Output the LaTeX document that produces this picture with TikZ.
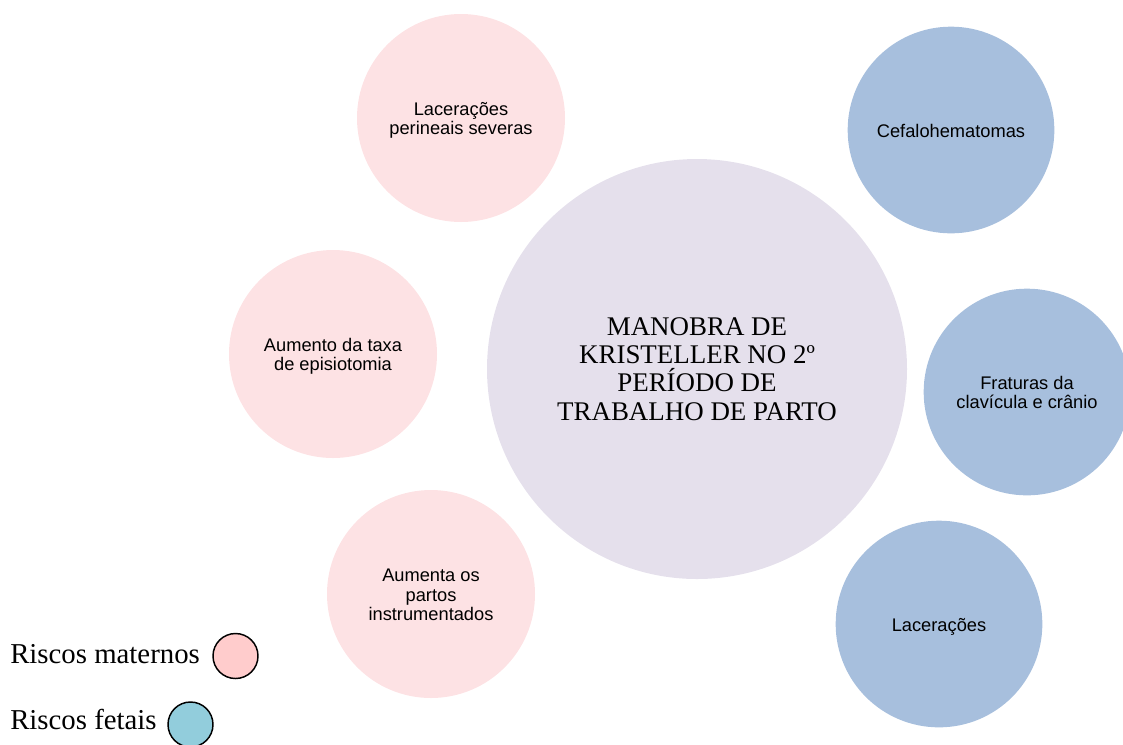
\documentclass[tikz,border=0pt]{standalone}
\usepackage{fontspec}
\setmainfont{Liberation Serif}
\newfontfamily\arialf{Liberation Sans}
\definecolor{pinkc}{HTML}{FDE2E4}
\definecolor{lavc}{HTML}{E5E0EC}
\definecolor{bluec}{HTML}{A7BFDD}
\definecolor{legpink}{HTML}{FFCCCC}
\definecolor{legblue}{HTML}{92CDDC}
\tikzset{
  bubble/.style={circle, inner sep=0pt, align=center, font=\arialf\fontsize{13.7}{14.6}\selectfont},
  mat/.style={bubble, fill=pinkc, minimum size=156pt},
  fet/.style={bubble, fill=bluec, minimum size=155pt},
  hub/.style={circle, inner sep=0pt, align=center, fill=lavc, minimum size=315pt,
    font=\fontsize{20.2}{21.2}\selectfont},
  legtext/.style={anchor=base west, inner sep=0pt, font=\fontsize{21.6}{24}\selectfont},
  legdot/.style={circle, draw=black, line width=1.1pt, inner sep=0pt, minimum size=33.75pt}
}
\newcommand{\lowtxt}[1]{\raisebox{-2.5pt}[\height][\depth]{\begin{tabular}{@{}c@{}}#1\end{tabular}}}
\begin{document}
\begin{tikzpicture}[x=0.75pt, y=-0.75pt]
\useasboundingbox (0,0) rectangle (1123,744);
\node[hub] (hub) at (697,369) {MANOBRA DE\\KRISTELLER NO 2º\\PERÍODO DE\\TRABALHO DE PARTO};
\node[mat] (m1) at (461,118) {\lowtxt{Lacerações\\perineais severas}};
\node[mat] (m2) at (333,354) {\lowtxt{Aumento da taxa\\de episiotomia}};
\node[mat] (m3) at (431,594) {\lowtxt{Aumenta os\\partos\\instrumentados}};
\node[fet] (f1) at (951,130) {\lowtxt{Cefalohematomas}};
\node[fet] (f2) at (1027,392) {\lowtxt{Fraturas da\\clavícula e crânio}};
\node[fet] (f3) at (939,624) {\lowtxt{Lacerações}};
\node[legtext] (lm) at (10,663) {Riscos maternos};
\node[legdot, fill=legpink] (dm) at (235.5,656) {};
\node[legtext] (lf) at (10,729) {Riscos fetais};
\node[legdot, fill=legblue] (df) at (190.5,724.5) {};
\end{tikzpicture}
\end{document}
